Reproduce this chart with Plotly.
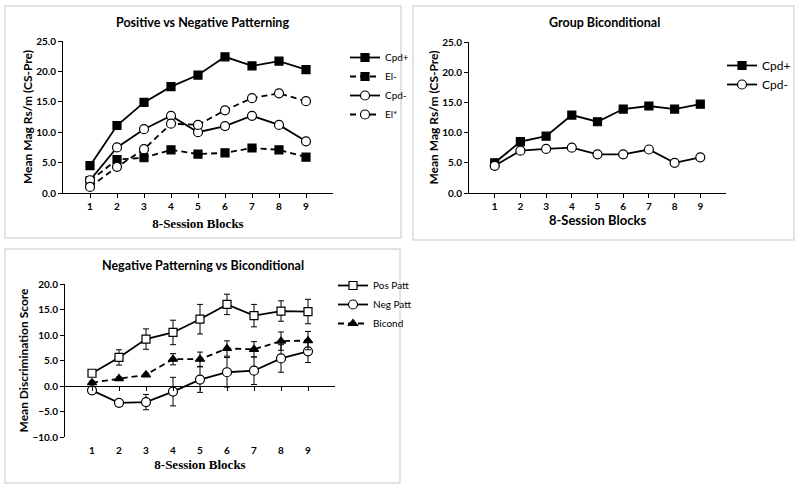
import plotly.graph_objects as go

# data
blocks = [1, 2, 3, 4, 5, 6, 7, 8, 9]

# Positive vs Negative Patterning
pn_cpd_plus = [4.5, 11.1, 14.9, 17.5, 19.4, 22.4, 20.9, 21.7, 20.3]
pn_el_minus = [2.0, 5.5, 5.8, 7.1, 6.4, 6.6, 7.4, 7.1, 5.9]
pn_cpd_minus = [2.1, 7.5, 10.5, 12.7, 10.0, 11.0, 12.7, 11.2, 8.5]
pn_el_star = [1.0, 4.3, 7.2, 11.4, 11.2, 13.6, 15.6, 16.4, 15.1]

# Group Biconditional
bc_cpd_plus = [5.0, 8.5, 9.4, 12.9, 11.8, 13.9, 14.4, 13.9, 14.7]
bc_cpd_minus = [4.5, 7.0, 7.3, 7.5, 6.4, 6.4, 7.2, 5.0, 5.9]

# Negative Patterning vs Biconditional (discrimination scores, +/- error)
pos_patt = [2.5, 5.6, 9.2, 10.5, 13.1, 16.0, 13.8, 14.7, 14.6]
pos_patt_err = [0.3, 1.5, 2.0, 2.4, 2.9, 2.0, 2.2, 2.0, 2.4]
neg_patt = [-0.85, -3.3, -3.15, -1.1, 1.25, 2.7, 3.0, 5.4, 6.8]
neg_patt_err = [0.3, 0.3, 1.5, 2.8, 2.5, 2.9, 2.7, 2.7, 2.2]
bicond = [0.65, 1.45, 2.2, 5.25, 5.25, 7.35, 7.2, 8.8, 8.9]
bicond_err = [0.3, 0.3, 0.3, 1.1, 1.4, 1.5, 1.5, 1.8, 1.8]

W, H = 800, 489
SANS = "Lato"
SERIF = "Liberation Serif"
DASH = "6px,4px"


def px(x):
    return x / W


def py(y):
    return 1 - y / H


def line_trace(y, name, xa, ya, legend, dash, symbol, fill, size, err=None):
    t = go.Scatter(
        x=blocks, y=y, name=name, xaxis=xa, yaxis=ya, legend=legend,
        mode="lines+markers",
        line=dict(color="black", width=1.8, dash=dash),
        marker=dict(symbol=symbol, size=size, color=fill,
                    line=dict(color="black", width=1.2)),
    )
    if err is not None:
        t.error_y = dict(type="data", array=err, color="black",
                         thickness=1, width=3)
    return t


traces = [
    line_trace(pn_cpd_plus, "Cpd+", "x", "y", "legend", "solid", "square", "black", 8),
    line_trace(pn_el_minus, "El-", "x", "y", "legend", DASH, "square", "black", 8),
    line_trace(pn_cpd_minus, "Cpd-", "x", "y", "legend", "solid", "circle", "white", 9),
    line_trace(pn_el_star, "El*", "x", "y", "legend", DASH, "circle", "white", 9),
    line_trace(bc_cpd_plus, "Cpd+", "x2", "y2", "legend2", "solid", "square", "black", 8),
    line_trace(bc_cpd_minus, "Cpd-", "x2", "y2", "legend2", "solid", "circle", "white", 9),
    line_trace(pos_patt, "Pos Patt", "x3", "y3", "legend3", "solid", "square", "white", 8, pos_patt_err),
    line_trace(neg_patt, "Neg Patt", "x3", "y3", "legend3", "solid", "circle", "white", 9, neg_patt_err),
    line_trace(bicond, "Bicond", "x3", "y3", "legend3", DASH, "triangle-up", "black", 8, bicond_err),
]

fig = go.Figure(data=traces)

tickfont = dict(family=SANS, size=10, color="black", weight="bold")


def xaxis(left, right, anchor, title_font, standoff, ticks=True):
    return dict(
        domain=[px(left), px(right)], anchor=anchor, range=[0, 10],
        tickvals=blocks, tickfont=tickfont, showgrid=False, zeroline=False,
        showline=ticks, linecolor="black", linewidth=1,
        ticks="outside", ticklen=4,
        tickcolor="black" if ticks else "rgba(0,0,0,0)",
        title=dict(text="8-Session Blocks", font=title_font, standoff=standoff),
        automargin=False,
    )


def yaxis(top, bottom, anchor, rng, title):
    return dict(
        domain=[py(bottom), py(top)], anchor=anchor, range=rng, dtick=5,
        tickformat=".1f", tickfont=tickfont, showgrid=False, zeroline=False,
        showline=True, linecolor="black", linewidth=1,
        ticks="outside", ticklen=4, tickcolor="black",
        title=dict(text=title, font=dict(family=SANS, size=12, color="black", weight="bold"),
                   standoff=1),
        automargin=False,
    )


serif_title = dict(family=SERIF, size=13, color="black", weight="bold")
sans_title = dict(family=SANS, size=13, color="black", weight="bold")

bottom_rng = [-10, 20]
bottom_top, bottom_bot = 284, 437
zero_pos = py(bottom_bot) + (0 - bottom_rng[0]) / (bottom_rng[1] - bottom_rng[0]) * (py(bottom_top) - py(bottom_bot))

fig.update_layout(
    width=W, height=H,
    margin=dict(l=0, r=0, t=0, b=0),
    paper_bgcolor="white", plot_bgcolor="white",
    xaxis=xaxis(63, 333, "y", serif_title, 7),
    yaxis=yaxis(41, 193, "x", [0, 25], "Mean Mag Rs/m (CS-Pre)"),
    xaxis2=xaxis(469, 726, "y2", sans_title, 4),
    yaxis2=yaxis(42, 193, "x2", [0, 25], "Mean Mag Rs/m (CS-Pre)"),
    xaxis3=xaxis(65, 335, "y3", serif_title, 4, ticks=False),
    yaxis3=yaxis(bottom_top, bottom_bot, "x3", bottom_rng, "Mean Discrimination Score"),
    # zero line of the bottom chart with its category ticks
    xaxis4=dict(domain=[px(65), px(335)], anchor="free", position=zero_pos,
                overlaying="x3", range=[0, 10], tickvals=blocks, showticklabels=False,
                showline=True, linecolor="black", linewidth=1, ticks="outside",
                ticklen=4, tickcolor="black", showgrid=False, zeroline=False),
    legend=dict(x=px(345), y=py(43), xanchor="left", yanchor="top",
                font=dict(family=SANS, size=10, color="black"),
                bgcolor="rgba(0,0,0,0)", itemwidth=30),
    legend2=dict(x=px(722), y=py(51), xanchor="left", yanchor="top",
                 font=dict(family=SANS, size=12, color="black"),
                 bgcolor="rgba(0,0,0,0)", itemwidth=30),
    legend3=dict(x=px(333), y=py(271), xanchor="left", yanchor="top",
                 font=dict(family=SANS, size=10, color="black"),
                 bgcolor="rgba(0,0,0,0)", itemwidth=30),
    showlegend=True,
)

# an empty trace on xaxis4 so the overlaid zero axis is drawn
fig.add_trace(go.Scatter(x=[], y=[], xaxis="x4", yaxis="y3", showlegend=False))

panel_titles = [
    ("Positive vs Negative Patterning", 202, 22),
    ("Group Biconditional", 604, 23),
    ("Negative Patterning vs Biconditional", 203, 265),
]
for text, x, y in panel_titles:
    fig.add_annotation(text=text, x=px(x), y=py(y), xref="paper", yref="paper",
                       showarrow=False, xanchor="center", yanchor="middle",
                       font=dict(family=SANS, size=12.5, color="black", weight="bold"))

panels = [(5, 6, 401, 238), (413, 6, 794, 240), (5, 249, 400, 483)]
for x0, y0, x1, y1 in panels:
    fig.add_shape(type="rect", xref="paper", yref="paper",
                  x0=px(x0), y0=py(y0), x1=px(x1), y1=py(y1),
                  line=dict(color="#dadada", width=1.5), layer="below")

# page body has a default 8px margin; drop it so the 800x489 figure fills the window
fig.write_html("out.html", config={"displayModeBar": False},
               post_script="document.body.style.margin='0';")
